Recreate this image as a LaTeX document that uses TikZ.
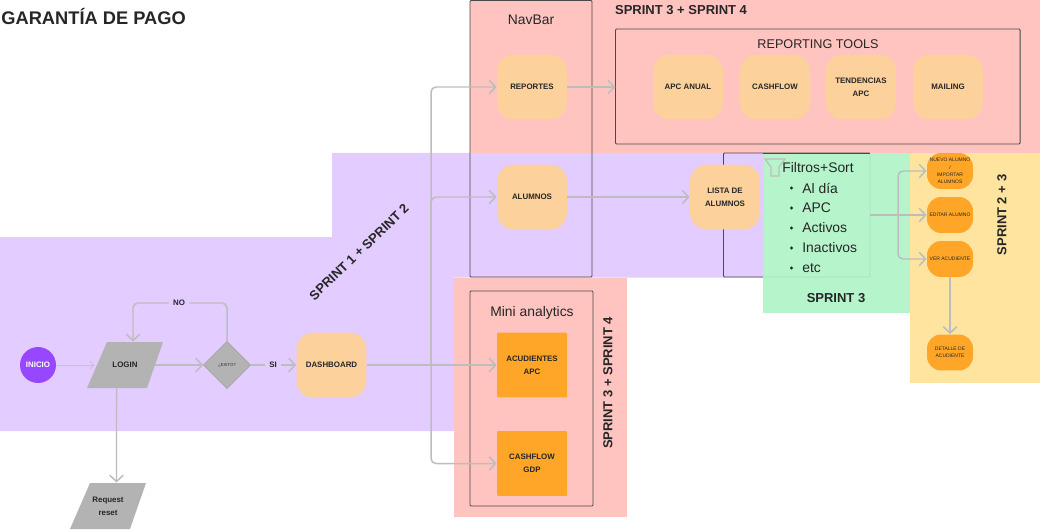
\documentclass[tikz,border=0pt]{standalone}
\usepackage{fontspec}
\setmainfont{Liberation Sans}
\usetikzlibrary{arrows.meta,shapes.geometric}
\definecolor{lilac}{HTML}{E3CCFF}
\definecolor{salmon}{HTML}{FFC4C0}
\definecolor{mint}{HTML}{AEF4C6}
\definecolor{cream}{HTML}{FFE4A0}
\definecolor{peach}{HTML}{FCD19C}
\definecolor{amber}{HTML}{FFA629}
\definecolor{slate}{HTML}{B3B3B3}
\definecolor{violetdot}{HTML}{9747FF}
\definecolor{wire}{HTML}{BDBDBD}
\definecolor{frameline}{HTML}{4A4A4A}
\tikzset{
  flow/.style={draw=wire, line width=0.85pt, rounded corners=0.1cm, -{Straight Barb[length=0.13cm,width=0.27cm]}},
  flowplain/.style={draw=wire, line width=0.85pt, rounded corners=0.1cm},
  flowthin/.style={draw=wire!70!lilac, line width=0.5pt, -{Straight Barb[length=0.08cm,width=0.16cm]}},
  framebox/.style={draw=frameline, line width=0.55pt, rounded corners=0.02cm},
  peachbox/.style={fill=peach, rounded corners=0.34cm, minimum width=1.4cm, minimum height=1.3cm, inner sep=0pt, align=center, font=\fontsize{4.5}{7.2}\selectfont\bfseries, text=black!85},
  amberbox/.style={fill=amber, rounded corners=0.02cm, minimum width=1.4cm, minimum height=1.3cm, inner sep=0pt, align=center, font=\fontsize{4.5}{7.2}\selectfont\bfseries, text=black!85},
  amberpill/.style={fill=amber, rounded corners=0.28cm, minimum width=0.92cm, minimum height=0.72cm, inner sep=0pt, align=center, font=\fontsize{2.85}{4.2}\selectfont, text=black!85},
  flatnode/.style={inner sep=0pt, align=center, font=\fontsize{4.5}{7.2}\selectfont\bfseries, text=black!85},
  sprint/.style={font=\fontsize{7.4}{9}\selectfont\bfseries, text=black!85},
  boxtitle/.style={font=\fontsize{7.9}{9}\selectfont, text=black!85},
}
\begin{document}
\begin{tikzpicture}[x=0.02cm, y=-0.02cm]
\useasboundingbox (0,0) rectangle (1040,530);
% sprint areas
\fill[lilac] (0,237) -- (332,237) -- (332,153) -- (764,153) -- (764,277.5) -- (454,277.5) -- (454,431) -- (0,431) -- cycle;
\fill[salmon] (470,0) rectangle (1040,153);
\fill[salmon] (454,278) rectangle (627,517);
\fill[cream] (910,153) rectangle (1040,383);
\draw[framebox] (723.5,153) rectangle (870,277);
\fill[mint, fill opacity=0.9] (763,153) rectangle (910,313);
\draw[frameline] (763,153) -- (870,153);

% frames
\draw[framebox] (470,0.5) rectangle (592,277);
\draw[framebox] (615.5,29) rectangle (1020,144);
\draw[framebox] (470,291) rectangle (593,506);

% titles
\node[font=\fontsize{10.4}{12}\selectfont\bfseries, text=black!85, anchor=west, inner sep=0pt] (heading) at (1,16) {GARANTÍA DE PAGO};
\node[sprint] (sprinttop) at (681,10) {SPRINT 3 + SPRINT 4};
\node[sprint, rotate=44] (sprintone) at (359,252) {SPRINT 1 + SPRINT 2};
\node[sprint, rotate=90] (sprintmini) at (608,383) {SPRINT 3 + SPRINT 4};
\node[sprint, rotate=90] (sprinttwo) at (1002,215) {SPRINT 2 + 3};
\node[sprint] (sprintthree) at (836,298) {SPRINT 3};
\node[boxtitle] (navbar) at (531,20) {NavBar};
\node[boxtitle, font=\fontsize{7.2}{9}\selectfont] (reporting) at (818,44) {REPORTING TOOLS};
\node[boxtitle] (mini) at (532,313) {Mini analytics};

% left flow
\node[circle, fill=violetdot, minimum size=0.72cm, inner sep=0pt, text=white, font=\fontsize{4.5}{7.2}\selectfont\bfseries] (inicio) at (38,365) {INICIO};
\fill[slate] (107,342) -- (163,342) -- (147,388) -- (87,388) -- cycle;
\node[flatnode, minimum width=1.2cm, minimum height=0.92cm] (login) at (125,365) {LOGIN};
\fill[slate] (90,483) -- (146,483) -- (130,529) -- (70,529) -- cycle;
\node[flatnode, minimum width=1.2cm, minimum height=0.92cm] (request) at (108,506) {Request\\reset};
\node[diamond, fill=slate, draw=black!40, line width=0.3pt, minimum size=0.94cm, inner sep=0pt, font=\fontsize{2.4}{3}\selectfont, text=black!85] (exito) at (227,365) {¿EXITO?};
\node[peachbox] (dashboard) at (331.5,365) {DASHBOARD};
\node[flatnode, minimum width=0.4cm, minimum height=0.3cm] (nolabel) at (179,303) {NO};
\node[flatnode, minimum width=0.32cm, minimum height=0.3cm] (silabel) at (273,365) {SI};

% navbar and reporting
\node[peachbox] (reportes) at (532,87) {REPORTES};
\node[peachbox] (alumnos) at (532,197) {ALUMNOS};
\node[peachbox] (apcanual) at (688,87) {APC ANUAL};
\node[peachbox] (cashflow) at (775,87) {CASHFLOW};
\node[peachbox] (tendencias) at (861,87) {TENDENCIAS\\APC};
\node[peachbox] (mailing) at (948,87) {MAILING};
\node[peachbox] (lista) at (725,197) {LISTA DE\\ALUMNOS};

% mini analytics
\node[amberbox] (acudientes) at (532,365) {ACUDIENTES\\APC};
\node[amberbox] (cashgdp) at (532,463.5) {CASHFLOW\\GDP};

% filters
\draw[wire, line width=0.7pt] (765,159) -- (785,159) -- (779,167) -- (779,176) -- (771,176) -- (771,167) -- cycle;
\node[boxtitle, anchor=west, inner sep=0pt] (filtros) at (782,168) {Filtros+Sort};
\foreach \yrow/\itemname in {188/Al día, 208/APC, 228/Activos, 248/Inactivos, 268/etc}
{
  \fill[black!85] (791.5,\yrow) circle (1.6);
  \node[boxtitle, anchor=west, inner sep=0pt] at (802,\yrow) {\itemname};
}
\coordinate (filtersout) at (870,215);

% right column
\node[amberpill] (nuevo) at (950,171) {NUEVO ALUMNO\\/\\IMPORTAR\\ALUMNOS};
\node[amberpill] (editar) at (950,215) {EDITAR ALUMNO};
\node[amberpill] (ver) at (950,259) {VER ACUDIENTE};
\node[amberpill] (detalle) at (950,352.5) {DETALLE DE\\ACUDIENTE};

% connectors
\coordinate (fork) at (431,365);
\coordinate (forkright) at (898,215);
\draw[flowthin] (inicio) -- (login.west);
\draw[flow] (login.east) -- (exito.west);
\draw[flow] ([xshift=-0.17cm]login.south) -- ([xshift=0.17cm]request.north);
\draw[flowplain] (exito.north) |- (nolabel.east);
\draw[flow] (nolabel.west) -| ([xshift=0.16cm]login.north);
\draw[flowplain] (exito.east) -- (silabel.west);
\draw[flow] (silabel.east) -- (dashboard.west);
\draw[flow] (dashboard.east) -- (acudientes.west);
\draw[flow] (fork) |- (reportes.west);
\draw[flow] (fork) |- (alumnos.west);
\draw[flow] (fork) |- (cashgdp.west);
\draw[flow] (reportes.east) -- (615.5,87);
\draw[flow] (alumnos.east) -- (lista.west);
\draw[flow] (filtersout) -- (editar.west);
\draw[flow] (forkright) |- (nuevo.west);
\draw[flow] (forkright) |- (ver.west);
\draw[flow] (ver.south) -- (detalle.north);
\end{tikzpicture}
\end{document}
